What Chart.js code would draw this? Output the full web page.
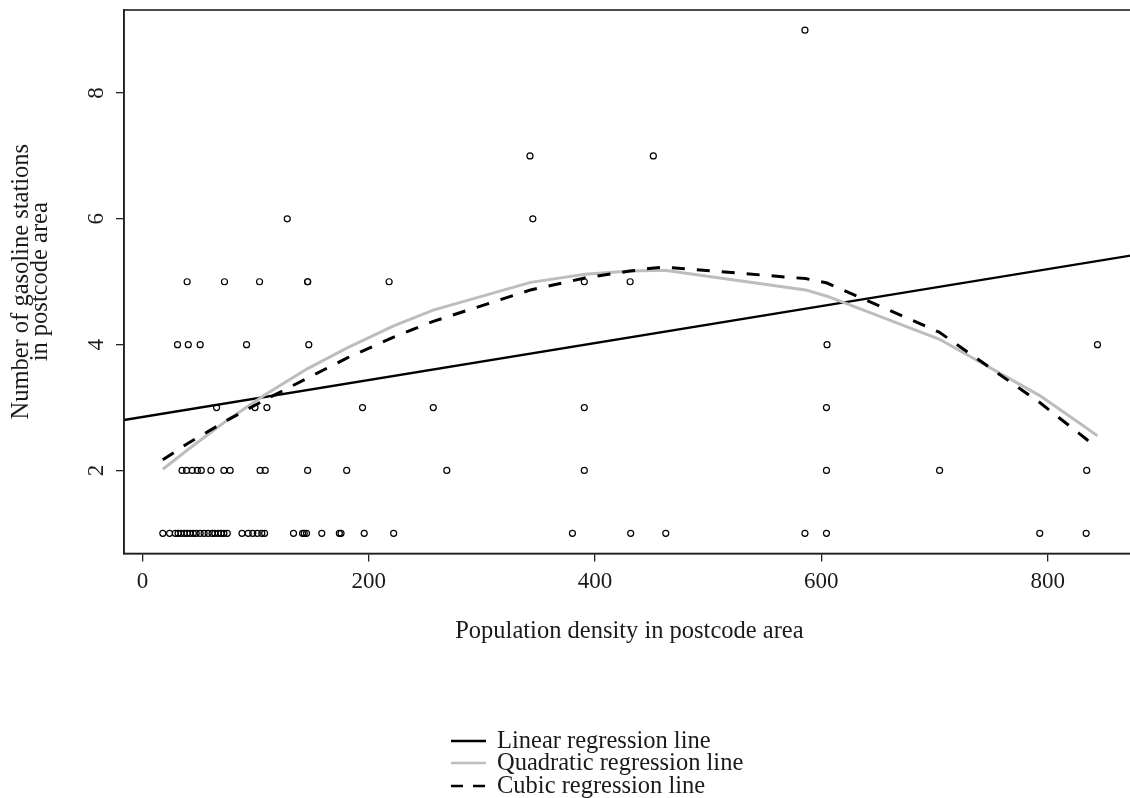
<!DOCTYPE html>
<html><head><meta charset="utf-8">
<script src="https://cdn.jsdelivr.net/npm/chart.js@4/dist/chart.umd.min.js"></script>
<style>
html,body{margin:0;padding:0;background:#fff;overflow:hidden;width:1130px;height:798px}
#wrap{position:relative;width:1140px;height:798px}
</style></head>
<body><div id="wrap"><canvas id="c" width="1140" height="798"></canvas></div>
<script>
// ---- data ----
const xTickValues = [0, 200, 400, 600, 800];
const yTickValues = [2, 4, 6, 8];

const density = [
  // stations = 1
  18, 24, 29, 31.5, 34, 37, 39.5, 42, 45, 47.5, 51, 54.5, 58, 61.5, 64, 67, 69.5, 72, 75,
  88, 93.5, 97.5, 101.5, 105.5, 108, 133.5, 141.5, 143, 145, 158.5, 174, 175.5, 196, 222,
  380, 431.5, 462.5, 585.5, 604.5, 793, 834,
  // stations = 2
  35, 39, 44, 48.5, 52, 60.5, 72, 77.5, 104, 108.5, 146, 180.5, 269, 390.5, 604.5, 704.5, 834.5,
  // stations = 3
  65.5, 99.5, 110, 194.5, 257, 390.5, 604.5,
  // stations = 4
  31, 40.5, 51, 92, 147, 605, 844,
  // stations = 5
  39.5, 72.5, 103.5, 146, 146, 218, 390.5, 431,
  // stations = 6
  128, 345,
  // stations = 7
  342.5, 451.5,
  // stations = 9
  585.5
];
const stations = [
  1,1,1,1,1,1,1,1,1,1,1,1,1,1,1,1,1,1,1,
  1,1,1,1,1,1,1,1,1,1,1,1,1,1,1,
  1,1,1,1,1,1,1,
  2,2,2,2,2,2,2,2,2,2,2,2,2,2,2,2,2,
  3,3,3,3,3,3,3,
  4,4,4,4,4,4,4,
  5,5,5,5,5,5,5,5,
  6,6,
  7,7,
  9
];

const fitX         = [18, 40, 75, 108, 146, 181, 222, 257, 343, 391, 431, 452, 463, 586, 605, 704, 793, 834, 844];
const quadraticFit = [2.02, 2.33, 2.80, 3.20, 3.62, 3.95, 4.30, 4.55, 4.99, 5.12, 5.17, 5.18, 5.18, 4.87, 4.77, 4.09, 3.19, 2.68, 2.55];
const cubicFit     = [2.17, 2.43, 2.80, 3.12, 3.47, 3.79, 4.12, 4.37, 4.87, 5.06, 5.17, 5.22, 5.23, 5.05, 4.98, 4.20, 3.08, 2.50, 2.35];
const linearX   = [-17, 878];
const linearFit = [2.80, 5.43];

const legendLabels = ['Linear regression line', 'Quadratic regression line', 'Cubic regression line'];
const xTitle = 'Population density in postcode area';
const yTitle = ['Number of gasoline stations', 'in postcode area'];

// ---- chart ----
const FONT = "'Liberation Serif', 'DejaVu Serif', serif";
const pts = density.map((d, i) => ({ x: d, y: stations[i] }));
const toXY = (xs, ys) => xs.map((x, i) => ({ x: x, y: ys[i] }));

const decor = {
  id: 'decor',
  afterDraw(chart) {
    const ctx = chart.ctx, a = chart.chartArea, ys = chart.scales.y;
    ctx.save();
    // frame
    ctx.strokeStyle = '#222'; ctx.lineWidth = 1.6;
    ctx.strokeRect(a.left, a.top, a.right - a.left, a.bottom - a.top);
    ctx.fillStyle = '#1a1a1a';
    // y tick labels (rotated, R style)
    ctx.font = '23px ' + FONT;
    ctx.textAlign = 'center'; ctx.textBaseline = 'middle';
    yTickValues.forEach(v => {
      ctx.save();
      ctx.translate(97, ys.getPixelForValue(v));
      ctx.rotate(-Math.PI / 2);
      ctx.fillText(String(v), 0, 0);
      ctx.restore();
    });
    // y title
    ctx.font = '24.5px ' + FONT;
    const cy = (a.top + a.bottom) / 2;
    [22, 41].forEach((x, i) => {
      ctx.save(); ctx.translate(x, cy); ctx.rotate(-Math.PI / 2);
      ctx.fillText(yTitle[i], 0, 0); ctx.restore();
    });
    // x title
    ctx.fillText(xTitle, (a.left + a.right) / 2, 632);
    // legend
    const rows = [741, 763, 786];
    ctx.textAlign = 'left';
    rows.forEach((y, i) => {
      ctx.beginPath();
      ctx.lineWidth = i === 1 ? 2.6 : 2.4;
      ctx.strokeStyle = i === 1 ? '#bdbdbd' : '#000';
      ctx.setLineDash(i === 2 ? [12, 10] : []);
      ctx.moveTo(451, y); ctx.lineTo(486, y); ctx.stroke();
      ctx.setLineDash([]);
      ctx.fillStyle = '#1a1a1a';
      ctx.fillText(legendLabels[i], 497, y + 1);
    });
    ctx.restore();
  }
};

new Chart(document.getElementById('c'), {
  type: 'scatter',
  data: {
    datasets: [
      { label: 'cubic', data: toXY(fitX, cubicFit), showLine: true, borderColor: '#000', borderWidth: 3,
        borderDash: [13, 12], pointRadius: 0, fill: false, tension: 0, order: 1 },
      { label: 'quadratic', data: toXY(fitX, quadraticFit), showLine: true, borderColor: '#bdbdbd', borderWidth: 3,
        pointRadius: 0, fill: false, tension: 0, order: 2 },
      { label: 'linear', data: toXY(linearX, linearFit), showLine: true, borderColor: '#000', borderWidth: 2.4,
        pointRadius: 0, fill: false, tension: 0, order: 3 },
      { label: 'data', data: pts, pointStyle: 'circle', pointRadius: 3, borderWidth: 1.2,
        borderColor: '#000', backgroundColor: 'rgba(0,0,0,0)', order: 4 }
    ]
  },
  options: {
    responsive: false, animation: false, devicePixelRatio: 1, events: [],
    layout: { padding: { top: 10, right: 5, left: 0, bottom: 0 } },
    plugins: { legend: { display: false }, tooltip: { enabled: false } },
    scales: {
      x: {
        type: 'linear', min: -16.3, max: 877,
        afterBuildTicks: s => { s.ticks = xTickValues.map(v => ({ value: v })); },
        afterFit: s => { s.height = 798 - 553.5; },
        grid: { drawOnChartArea: false, drawTicks: true, tickLength: 8, color: '#222', lineWidth: 1.3 },
        border: { display: true, color: '#222', width: 1.6 },
        ticks: { font: { family: FONT, size: 23 }, color: '#1a1a1a', padding: 7, maxRotation: 0, autoSkip: false }
      },
      y: {
        type: 'linear', min: 0.68, max: 9.32,
        afterBuildTicks: s => { s.ticks = yTickValues.map(v => ({ value: v })); },
        afterFit: s => { s.width = 124; },
        grid: { drawOnChartArea: false, drawTicks: true, tickLength: 8, color: '#222', lineWidth: 1.3 },
        border: { display: true, color: '#222', width: 1.6 },
        ticks: { display: false }
      }
    }
  },
  plugins: [decor]
});
</script></body></html>
